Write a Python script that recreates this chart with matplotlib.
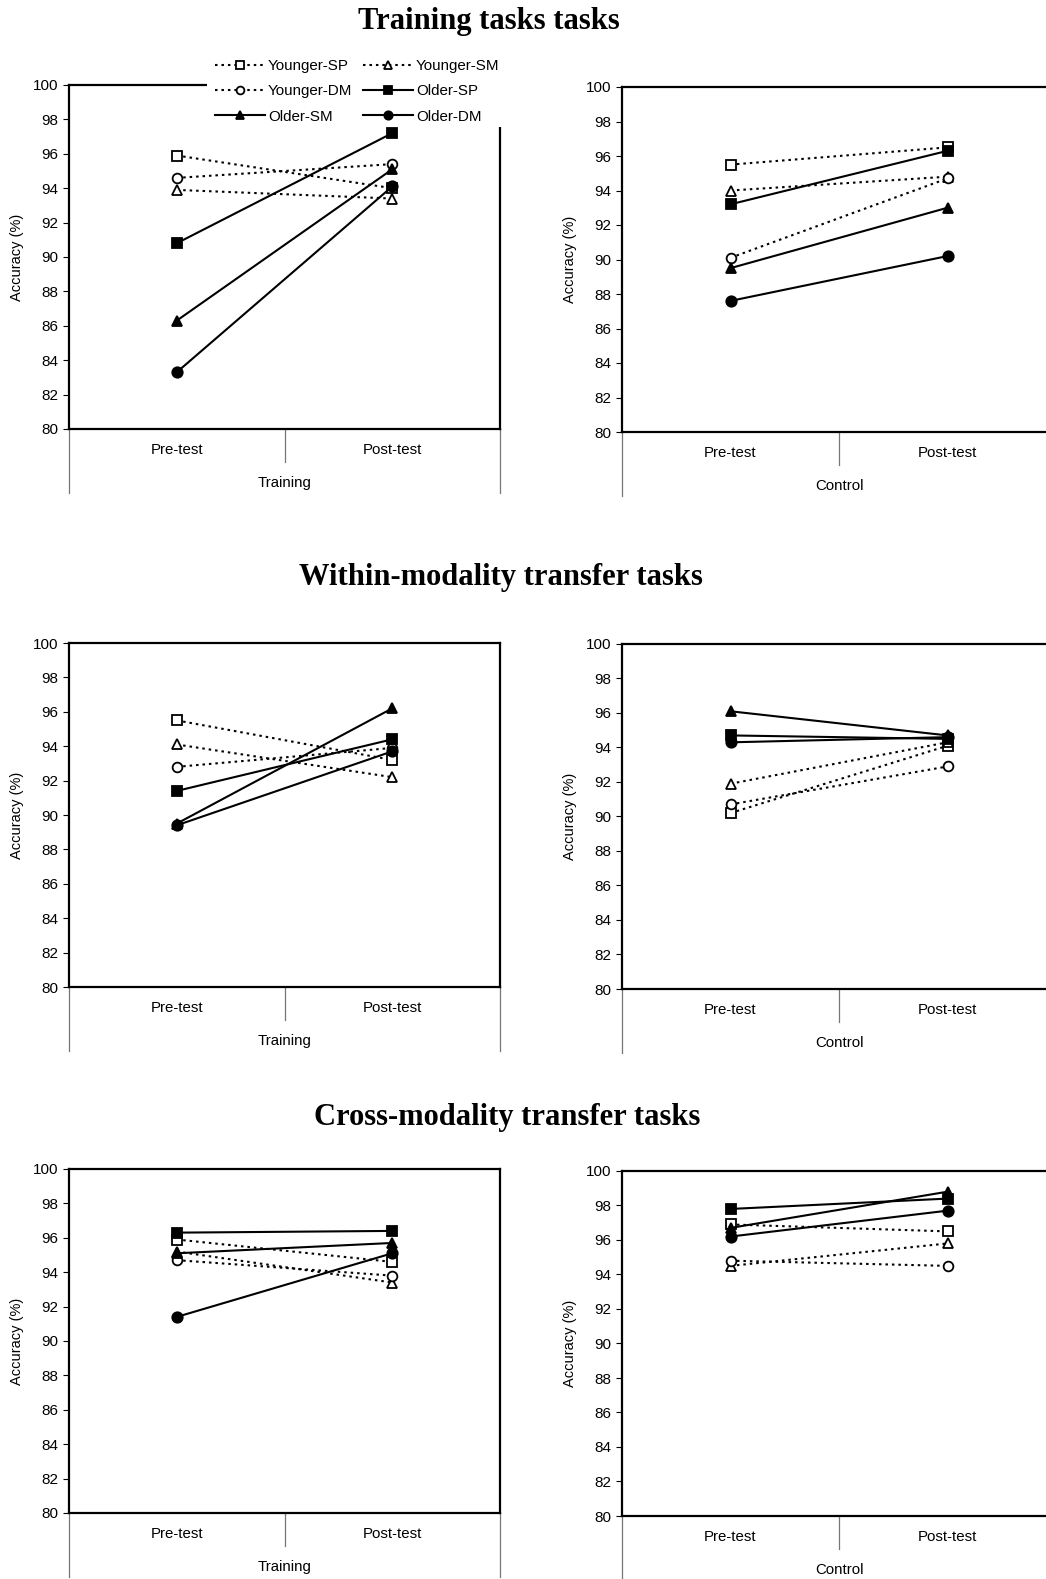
import matplotlib
matplotlib.use('Agg')
import matplotlib.pyplot as plt
import numpy as np
from matplotlib.patches import Rectangle

plt.rcParams['font.family'] = ['Liberation Sans', 'DejaVu Sans']

groups = ["Younger-SP", "Younger-SM", "Younger-DM", "Older-SP", "Older-SM", "Older-DM"]
phases = ["Pre-test", "Post-test"]
yticks = np.arange(80, 101, 2)

# values per group, same order as `groups`
# training tasks
tt_training_pre = [95.9, 93.9, 94.6, 90.8, 86.3, 83.3]
tt_training_post = [94.0, 93.4, 95.4, 97.2, 95.1, 94.1]
tt_control_pre = [95.5, 94.0, 90.1, 93.2, 89.5, 87.6]
tt_control_post = [96.5, 94.8, 94.7, 96.3, 93.0, 90.2]
# within-modality transfer tasks
wm_training_pre = [95.5, 94.1, 92.8, 91.4, 89.5, 89.4]
wm_training_post = [93.2, 92.2, 93.9, 94.4, 96.2, 93.7]
wm_control_pre = [90.2, 91.9, 90.7, 94.7, 96.1, 94.3]
wm_control_post = [94.1, 94.3, 92.9, 94.5, 94.7, 94.6]
# cross-modality transfer tasks
cm_training_pre = [95.9, 95.2, 94.7, 96.3, 95.1, 91.4]
cm_training_post = [94.6, 93.4, 93.8, 96.4, 95.7, 95.1]
cm_control_pre = [96.9, 94.5, 94.8, 97.8, 96.7, 96.2]
cm_control_post = [96.5, 95.8, 94.5, 98.4, 98.8, 97.7]

dotted = (0, (1.2, 1.9))
styles = {
    "Younger-SP": dict(ls=dotted, marker='s', mfc='white', ms=7),
    "Younger-SM": dict(ls=dotted, marker='^', mfc='white', ms=7),
    "Younger-DM": dict(ls=dotted, marker='o', mfc='white', ms=7),
    "Older-SP": dict(ls='-', marker='s', mfc='black', ms=7),
    "Older-SM": dict(ls='-', marker='^', mfc='black', ms=7.5),
    "Older-DM": dict(ls='-', marker='o', mfc='black', ms=7.5),
}

W, H = 1046, 1579
fig = plt.figure(figsize=(W / 100, H / 100), dpi=100)


def make_axes(left, right, top, bottom):
    return fig.add_axes([left / W, 1 - bottom / H, (right - left) / W, (bottom - top) / H])


panels = [
    ((69, 500, 85, 429), tt_training_pre, tt_training_post, "Training"),
    ((622, 1056, 87, 432), tt_control_pre, tt_control_post, "Control"),
    ((69, 500, 643, 987), wm_training_pre, wm_training_post, "Training"),
    ((622, 1056, 644, 989), wm_control_pre, wm_control_post, "Control"),
    ((69, 500, 1169, 1513), cm_training_pre, cm_training_post, "Training"),
    ((622, 1056, 1171, 1516), cm_control_pre, cm_control_post, "Control"),
]

axes = []
for box, pre, post, group_label in panels:
    ax = make_axes(*box)
    axes.append(ax)
    for i, name in enumerate(groups):
        ax.plot([0, 1], [pre[i], post[i]], color='black', lw=1.5, mec='black',
                mew=1.3, label=name, **styles[name])
    ax.set_xlim(-0.5, 1.5)
    ax.set_ylim(80, 100)
    ax.set_yticks(yticks)
    ax.set_xticks([0, 1], phases)
    ax.tick_params(axis='y', direction='out', length=4, width=0.8, labelsize=11, pad=4)
    ax.tick_params(axis='x', length=0, labelsize=10.8, pad=10)
    ax.set_ylabel("Accuracy (%)", fontsize=10.5, labelpad=6)
    ax.set_xlabel(group_label, fontsize=10.8, labelpad=14)
    for s in ax.spines.values():
        s.set_linewidth(1.6)
    # multi-level category axis dividers
    h_px = box[3] - box[2]
    outer = -64 / h_px
    inner = -33 / h_px
    for xa, ya in [(0, outer), (1, outer), (0.5, inner)]:
        ax.plot([xa, xa], [0, ya], transform=ax.transAxes, clip_on=False,
                color='#777777', lw=0.9)

# white box behind the legend covering the top-left frame
fig.patches.append(Rectangle((207 / W, 1 - 127 / H), 300 / W, 77 / H,
                             transform=fig.transFigure, facecolor='white',
                             edgecolor='none', zorder=5))

handles, labels = axes[0].get_legend_handles_labels()
order = [0, 2, 4, 1, 3, 5]
leg = fig.legend([handles[k] for k in order], [labels[k] for k in order],
                 ncol=2, loc='upper left', bbox_to_anchor=(215 / W, 1 - 59 / H),
                 frameon=False, fontsize=10.9, numpoints=1, markerscale=0.8,
                 handlelength=3.3, handletextpad=0.2, columnspacing=0.7,
                 labelspacing=0.75, borderpad=0, borderaxespad=0)
leg.set_zorder(6)

title_kw = dict(family='Liberation Serif', weight='bold', fontsize=22, ha='center', va='center')
fig.text(489 / W, 1 - 22 / H, "Training tasks tasks", **title_kw)
fig.text(501 / W, 1 - 577 / H, "Within-modality transfer tasks", **title_kw)
fig.text(507 / W, 1 - 1118 / H, "Cross-modality transfer tasks", **title_kw)

fig.savefig('out.png', dpi=100)
